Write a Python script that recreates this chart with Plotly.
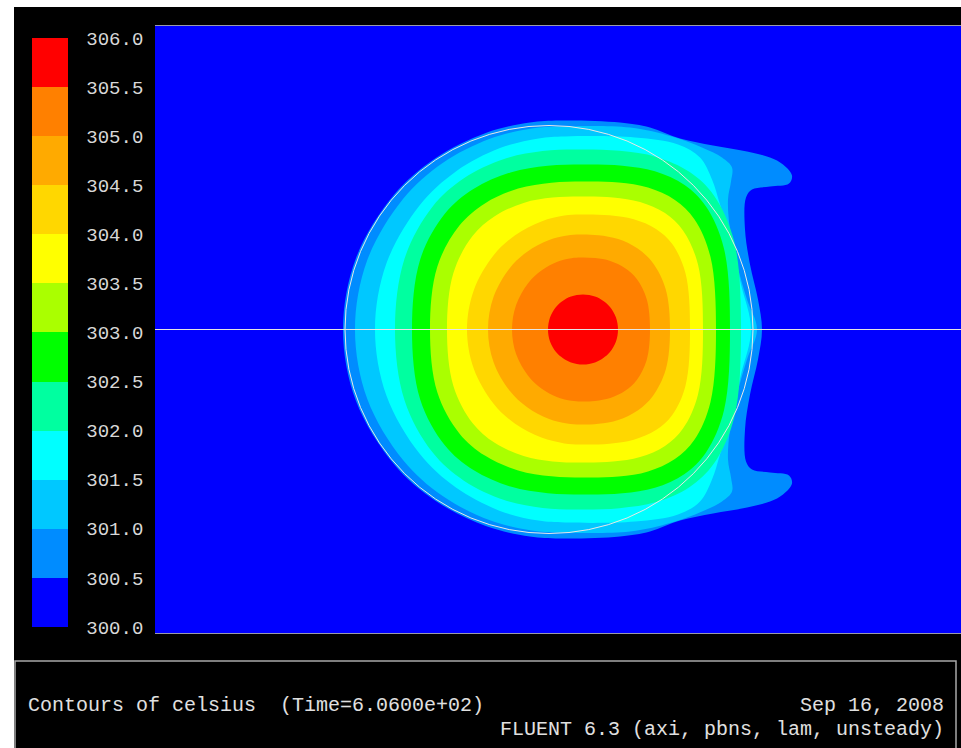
import plotly.graph_objects as go

# Contour levels (deg C) and the fill colour of each band above a level
levels = [300.0, 300.5, 301.0, 301.5, 302.0, 302.5, 303.0, 303.5, 304.0, 304.5, 305.0, 305.5, 306.0]
band_colors = ["#0000ff", "#008cff", "#00c8ff", "#00ffff", "#00ffa0", "#00ff00",
               "#aaff00", "#ffff00", "#ffd700", "#ffaa00", "#ff8000", "#ff0000"]

# Isotherm outlines, upper half (axial z, radial r); the lower half mirrors about the axis
z_300_5 = [18.8, 20.1, 23.88, 28.04, 33.08, 37.48, 40.5, 46.5, 49.5, 52.5, 55.8, 59.2, 61.5,
           62.8, 63.7, 63.4, 61.5, 59.7, 59.1, 59.0, 59.5, 60.3, 60.7]
r_300_5 = [0.0, 7.15, 13.44, 17.12, 19.65, 20.7, 20.9, 20.7, 20.2, 19.1, 18.4, 17.8, 17.2,
           16.5, 15.4, 14.6, 14.3, 14.0, 13.2, 10.0, 6.5, 3.0, 0.0]

z_301_0 = [20.0, 21.23, 24.8, 28.73, 33.49, 37.65, 40.5, 47.5, 51.7, 54.7, 56.7, 57.7, 57.6,
           57.3, 57.5, 58.2, 59.2, 60.2]
r_301_0 = [0.0, 6.94, 13.05, 16.63, 19.08, 20.1, 20.3, 20.2, 19.3, 18.2, 17.2, 16.2, 14.8,
           13.0, 10.0, 6.5, 3.0, 0.0]

z_301_5 = [22.0, 23.14, 26.45, 30.09, 34.5, 38.36, 41.0, 48.0, 52.3, 54.5, 55.7, 56.5, 57.5, 58.6, 59.6]
r_301_5 = [0.0, 6.6, 12.41, 15.81, 18.14, 19.11, 19.3, 19.2, 18.5, 17.2, 15.0, 12.5, 9.0, 4.5, 0.0]

z_302_0 = [24.0, 24.95, 27.73, 30.89, 34.91, 38.76, 42.0, 46.45, 50.12, 53.47, 55.89, 57.92, 58.6]
r_302_0 = [0.0, 7.07, 12.26, 15.12, 17.05, 17.84, 18.0, 17.87, 17.26, 15.75, 13.41, 8.8, 0.0]

z_302_5 = [25.7, 26.52, 28.98, 31.84, 35.55, 39.28, 42.8, 46.74, 49.99, 52.96, 55.1, 56.9, 57.5]
r_302_5 = [0.0, 7.0, 11.58, 14.06, 15.71, 16.37, 16.5, 16.38, 15.82, 14.44, 12.29, 8.07, 0.0]

z_303_0 = [27.5, 28.23, 30.44, 32.99, 36.31, 39.65, 42.8, 46.36, 49.3, 51.99, 53.94, 55.55, 56.1]
r_303_0 = [0.0, 6.28, 10.39, 12.61, 14.09, 14.68, 14.8, 14.7, 14.19, 12.95, 11.03, 7.24, 0.0]

z_303_5 = [29.2, 29.84, 31.75, 33.97, 36.86, 39.76, 42.5, 45.8, 48.51, 51.0, 52.8, 54.3, 54.8]
r_303_5 = [0.0, 5.64, 9.34, 11.33, 12.66, 13.19, 13.3, 13.21, 12.75, 11.64, 9.91, 6.5, 0.0]

z_304_0 = [31.2, 31.88, 33.84, 36.01, 38.64, 40.93, 42.5, 45.45, 47.88, 50.1, 51.71, 53.05, 53.5]
r_304_0 = [0.0, 3.93, 7.39, 9.42, 10.81, 11.39, 11.5, 11.42, 11.03, 10.06, 8.57, 5.62, 0.0]

z_304_5 = [33.3, 33.85, 35.45, 37.22, 39.35, 41.22, 42.5, 44.35, 46.32, 48.27, 49.77, 51.07, 51.5]
r_304_5 = [0.0, 3.25, 6.11, 7.78, 8.93, 9.4, 9.5, 9.42, 9.04, 8.09, 6.67, 4.03, 0.0]

z_305_0 = [35.7, 36.11, 37.31, 38.64, 40.24, 41.64, 42.6, 44.02, 45.53, 47.02, 48.18, 49.17, 49.5]
r_305_0 = [0.0, 2.46, 4.63, 5.9, 6.77, 7.13, 7.2, 7.14, 6.85, 6.13, 5.05, 3.05, 0.0]

z_305_5 = [39.3, 39.5, 40.1, 40.8, 41.6, 42.8, 44.0, 44.8, 45.5, 46.1, 46.3]
r_305_5 = [0.0, 1.2, 2.25, 2.87, 3.29, 3.5, 3.29, 2.87, 2.25, 1.2, 0.0]

isotherms = [
    (z_300_5, r_300_5), (z_301_0, r_301_0), (z_301_5, r_301_5), (z_302_0, r_302_0),
    (z_302_5, r_302_5), (z_303_0, r_303_0), (z_303_5, r_303_5), (z_304_0, r_304_0),
    (z_304_5, r_304_5), (z_305_0, r_305_0), (z_305_5, r_305_5),
]

# Droplet interface and domain extents
droplet_center = 39.4
droplet_radius = 20.4
domain_length = 80.6
domain_radius = 30.35

fig = go.Figure()

for k, (zs, rs) in enumerate(isotherms, start=1):
    x_full = list(zs) + list(zs[::-1][1:])
    y_full = list(rs) + [-v for v in rs[::-1][1:]]
    fig.add_trace(go.Scatter(
        x=x_full, y=y_full, mode="lines", fill="toself",
        fillcolor=band_colors[k],
        line=dict(width=0, shape="spline", smoothing=1.0, color=band_colors[k]),
        hoverinfo="skip", showlegend=False,
    ))

# Stepped colour scale for the legend bar
n_bands = len(band_colors)
colorscale = []
for i, c in enumerate(band_colors):
    colorscale.append([i / n_bands, c])
    colorscale.append([(i + 1) / n_bands, c])

W, H = 961, 748
ML, MR, MT, MB = 155, 0, 26, 115
PW, PH = W - ML - MR, H - MT - MB


def px(x):
    return (x - ML) / PW


def py(y):
    return (H - MB - y) / PH


fig.add_trace(go.Scatter(
    x=[-100], y=[0], mode="markers",
    marker=dict(
        color=[levels[0]], colorscale=colorscale, cmin=levels[0], cmax=levels[-1],
        showscale=True,
        colorbar=dict(
            x=px(32), xanchor="left", xpad=0,
            y=py(332.5), yanchor="middle", ypad=0,
            thickness=36, thicknessmode="pixels",
            len=589, lenmode="pixels",
            outlinewidth=0,
            tickvals=levels, ticktext=[f"{v:.1f}" for v in levels],
            ticks="outside", ticklen=15, tickcolor="rgba(0,0,0,0)",
            tickfont=dict(family="Liberation Mono", size=19, color="#d8d8d8"),
        ),
    ),
    hoverinfo="skip", showlegend=False,
))

shapes = [
    # symmetry axis
    dict(type="line", xref="x", yref="y", x0=0, x1=domain_length, y0=0, y1=0,
         line=dict(color="#e6e6e6", width=1), layer="above"),
    # droplet interface
    dict(type="circle", xref="x", yref="y",
         x0=droplet_center - droplet_radius, x1=droplet_center + droplet_radius,
         y0=-droplet_radius, y1=droplet_radius,
         line=dict(color="#e8e8e8", width=1), layer="above"),
    # page margins outside the graphics window
    dict(type="rect", xref="paper", yref="paper", x0=px(-5), x1=px(W + 5), y0=py(7), y1=py(-5),
         fillcolor="white", line=dict(width=0), layer="above"),
    dict(type="rect", xref="paper", yref="paper", x0=px(-5), x1=px(14), y0=py(H + 5), y1=py(-5),
         fillcolor="white", line=dict(width=0), layer="above"),
    # title box
    dict(type="rect", xref="paper", yref="paper", x0=px(15), x1=px(956), y0=py(661), y1=py(H + 20),
         fillcolor="rgba(0,0,0,0)", line=dict(color="#a8a8a8", width=1.5), layer="above"),
]

text_font = dict(family="Liberation Mono", size=20, color="#e0e0e0")
annotations = [
    dict(text="Contours of celsius&nbsp; (Time=6.0600e+02)", xref="paper", yref="paper",
         x=px(26), y=py(705), xanchor="left", yanchor="middle", showarrow=False, font=text_font),
    dict(text="Sep 16, 2008", xref="paper", yref="paper",
         x=px(946), y=py(705), xanchor="right", yanchor="middle", showarrow=False, font=text_font),
    dict(text="FLUENT 6.3 (axi, pbns, lam, unsteady)", xref="paper", yref="paper",
         x=px(946), y=py(729), xanchor="right", yanchor="middle", showarrow=False, font=text_font),
]

fig.update_layout(
    width=W, height=H,
    margin=dict(l=ML, r=MR, t=MT, b=MB, pad=0),
    paper_bgcolor="black", plot_bgcolor="#0000ff",
    xaxis=dict(range=[0, domain_length], showgrid=False, zeroline=False, showticklabels=False,
               ticks="", showline=True, linecolor="#9a9aaa", linewidth=1, mirror=True, fixedrange=True),
    yaxis=dict(range=[-domain_radius, domain_radius], showgrid=False, zeroline=False,
               showticklabels=False, ticks="", showline=False, fixedrange=True),
    shapes=shapes, annotations=annotations,
)

fig.write_html("out.html")
